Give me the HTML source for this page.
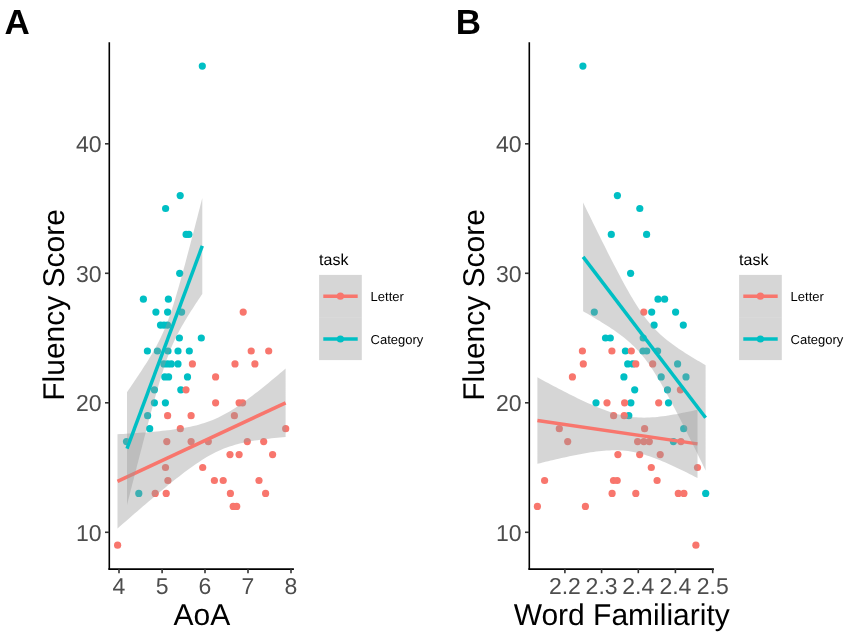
<!DOCTYPE html>
<html><head><meta charset="utf-8"><style>
html,body{margin:0;padding:0;background:#fff;width:851px;height:639px;overflow:hidden}
svg{display:block;filter:blur(0.4px)}
text{font-family:"Liberation Sans",sans-serif;text-rendering:geometricPrecision}
.tick{font-size:23px;fill:#4D4D4D}
.title{font-size:30px;fill:#000}
.lab{font-size:35px;font-weight:bold;fill:#000}
.legt{font-size:16px;fill:#000}
.legl{font-size:13px;fill:#000}
</style></head><body>
<svg width="851" height="639" viewBox="0 0 851 639">
<rect width="851" height="639" fill="#fff"/>
<text x="4.4" y="33.8" class="lab">A</text>
<text x="455.8" y="33.8" class="lab">B</text>
<circle cx="202.3" cy="66.1" r="3.6" fill="#00BFC4"/>
<circle cx="180.2" cy="195.6" r="3.6" fill="#00BFC4"/>
<circle cx="165.6" cy="208.5" r="3.6" fill="#00BFC4"/>
<circle cx="186.1" cy="234.4" r="3.6" fill="#00BFC4"/>
<circle cx="188.9" cy="234.4" r="3.6" fill="#00BFC4"/>
<circle cx="179.7" cy="273.3" r="3.6" fill="#00BFC4"/>
<circle cx="143.4" cy="299.2" r="3.6" fill="#00BFC4"/>
<circle cx="168.4" cy="299.2" r="3.6" fill="#00BFC4"/>
<circle cx="155.9" cy="312.1" r="3.6" fill="#00BFC4"/>
<circle cx="167.6" cy="312.1" r="3.6" fill="#00BFC4"/>
<circle cx="181.6" cy="312.1" r="3.6" fill="#00BFC4"/>
<circle cx="160.5" cy="325.1" r="3.6" fill="#00BFC4"/>
<circle cx="164.0" cy="325.1" r="3.6" fill="#00BFC4"/>
<circle cx="167.5" cy="325.1" r="3.6" fill="#00BFC4"/>
<circle cx="179.4" cy="338.0" r="3.6" fill="#00BFC4"/>
<circle cx="201.3" cy="338.0" r="3.6" fill="#00BFC4"/>
<circle cx="147.4" cy="351.0" r="3.6" fill="#00BFC4"/>
<circle cx="157.4" cy="351.0" r="3.6" fill="#00BFC4"/>
<circle cx="168.0" cy="351.0" r="3.6" fill="#00BFC4"/>
<circle cx="178.0" cy="351.0" r="3.6" fill="#00BFC4"/>
<circle cx="189.3" cy="351.0" r="3.6" fill="#00BFC4"/>
<circle cx="163.9" cy="363.9" r="3.6" fill="#00BFC4"/>
<circle cx="167.7" cy="363.9" r="3.6" fill="#00BFC4"/>
<circle cx="171.3" cy="363.9" r="3.6" fill="#00BFC4"/>
<circle cx="178.0" cy="363.9" r="3.6" fill="#00BFC4"/>
<circle cx="164.8" cy="376.9" r="3.6" fill="#00BFC4"/>
<circle cx="168.6" cy="376.9" r="3.6" fill="#00BFC4"/>
<circle cx="187.5" cy="376.9" r="3.6" fill="#00BFC4"/>
<circle cx="154.4" cy="389.8" r="3.6" fill="#00BFC4"/>
<circle cx="180.8" cy="389.8" r="3.6" fill="#00BFC4"/>
<circle cx="154.4" cy="402.8" r="3.6" fill="#00BFC4"/>
<circle cx="165.4" cy="402.8" r="3.6" fill="#00BFC4"/>
<circle cx="147.6" cy="415.7" r="3.6" fill="#00BFC4"/>
<circle cx="149.7" cy="428.7" r="3.6" fill="#00BFC4"/>
<circle cx="126.5" cy="441.6" r="3.6" fill="#00BFC4"/>
<circle cx="138.8" cy="493.4" r="3.6" fill="#00BFC4"/>
<circle cx="243.2" cy="312.1" r="3.6" fill="#F8766D"/>
<circle cx="251.2" cy="351.0" r="3.6" fill="#F8766D"/>
<circle cx="268.7" cy="351.0" r="3.6" fill="#F8766D"/>
<circle cx="192.4" cy="363.9" r="3.6" fill="#F8766D"/>
<circle cx="235.0" cy="363.9" r="3.6" fill="#F8766D"/>
<circle cx="254.9" cy="363.9" r="3.6" fill="#F8766D"/>
<circle cx="215.6" cy="376.9" r="3.6" fill="#F8766D"/>
<circle cx="186.0" cy="389.8" r="3.6" fill="#F8766D"/>
<circle cx="215.6" cy="402.8" r="3.6" fill="#F8766D"/>
<circle cx="239.1" cy="402.8" r="3.6" fill="#F8766D"/>
<circle cx="242.6" cy="402.8" r="3.6" fill="#F8766D"/>
<circle cx="167.6" cy="415.7" r="3.6" fill="#F8766D"/>
<circle cx="191.1" cy="415.7" r="3.6" fill="#F8766D"/>
<circle cx="234.4" cy="415.7" r="3.6" fill="#F8766D"/>
<circle cx="180.3" cy="428.7" r="3.6" fill="#F8766D"/>
<circle cx="285.7" cy="428.7" r="3.6" fill="#F8766D"/>
<circle cx="166.8" cy="441.6" r="3.6" fill="#F8766D"/>
<circle cx="191.1" cy="441.6" r="3.6" fill="#F8766D"/>
<circle cx="208.3" cy="441.6" r="3.6" fill="#F8766D"/>
<circle cx="247.3" cy="441.6" r="3.6" fill="#F8766D"/>
<circle cx="263.7" cy="441.6" r="3.6" fill="#F8766D"/>
<circle cx="230.0" cy="454.6" r="3.6" fill="#F8766D"/>
<circle cx="239.1" cy="454.6" r="3.6" fill="#F8766D"/>
<circle cx="272.6" cy="454.6" r="3.6" fill="#F8766D"/>
<circle cx="165.5" cy="467.5" r="3.6" fill="#F8766D"/>
<circle cx="202.7" cy="467.5" r="3.6" fill="#F8766D"/>
<circle cx="167.9" cy="480.5" r="3.6" fill="#F8766D"/>
<circle cx="214.4" cy="480.5" r="3.6" fill="#F8766D"/>
<circle cx="223.2" cy="480.5" r="3.6" fill="#F8766D"/>
<circle cx="259.0" cy="480.5" r="3.6" fill="#F8766D"/>
<circle cx="155.2" cy="493.4" r="3.6" fill="#F8766D"/>
<circle cx="166.2" cy="493.4" r="3.6" fill="#F8766D"/>
<circle cx="230.4" cy="493.4" r="3.6" fill="#F8766D"/>
<circle cx="265.6" cy="493.4" r="3.6" fill="#F8766D"/>
<circle cx="233.2" cy="506.4" r="3.6" fill="#F8766D"/>
<circle cx="236.7" cy="506.4" r="3.6" fill="#F8766D"/>
<circle cx="117.6" cy="545.2" r="3.6" fill="#F8766D"/>
<path d="M117.50,434.24 L120.30,434.08 L123.10,433.91 L125.91,433.74 L128.71,433.57 L131.51,433.39 L134.31,433.20 L137.11,433.01 L139.91,432.80 L142.72,432.60 L145.52,432.38 L148.32,432.15 L151.12,431.92 L153.92,431.67 L156.72,431.41 L159.53,431.14 L162.33,430.85 L165.13,430.55 L167.93,430.22 L170.73,429.88 L173.53,429.51 L176.34,429.12 L179.14,428.70 L181.94,428.25 L184.74,427.77 L187.54,427.24 L190.34,426.67 L193.15,426.06 L195.95,425.38 L198.75,424.65 L201.55,423.86 L204.35,422.99 L207.15,422.05 L209.96,421.03 L212.76,419.92 L215.56,418.73 L218.36,417.45 L221.16,416.07 L223.96,414.61 L226.77,413.06 L229.57,411.42 L232.37,409.71 L235.17,407.93 L237.97,406.07 L240.77,404.16 L243.58,402.18 L246.38,400.16 L249.18,398.09 L251.98,395.98 L254.78,393.83 L257.58,391.65 L260.38,389.43 L263.19,387.19 L265.99,384.93 L268.79,382.65 L271.59,380.34 L274.39,378.02 L277.20,375.68 L280.00,373.33 L282.80,370.97 L285.60,368.59 L285.60,437.01 L282.80,437.26 L280.00,437.51 L277.20,437.78 L274.39,438.06 L271.59,438.36 L268.79,438.67 L265.99,439.00 L263.19,439.36 L260.38,439.74 L257.58,440.14 L254.78,440.58 L251.98,441.05 L249.18,441.56 L246.38,442.11 L243.58,442.70 L240.77,443.35 L237.97,444.05 L235.17,444.82 L232.37,445.65 L229.57,446.55 L226.77,447.54 L223.96,448.61 L221.16,449.76 L218.36,451.01 L215.56,452.34 L212.76,453.77 L209.96,455.28 L207.15,456.87 L204.35,458.55 L201.55,460.31 L198.75,462.13 L195.95,464.02 L193.15,465.97 L190.34,467.97 L187.54,470.02 L184.74,472.11 L181.94,474.24 L179.14,476.41 L176.34,478.61 L173.53,480.84 L170.73,483.09 L167.93,485.37 L165.13,487.66 L162.33,489.98 L159.53,492.31 L156.72,494.65 L153.92,497.01 L151.12,499.39 L148.32,501.77 L145.52,504.16 L142.72,506.56 L139.91,508.97 L137.11,511.39 L134.31,513.82 L131.51,516.25 L128.71,518.69 L125.91,521.13 L123.10,523.58 L120.30,526.03 L117.50,528.49Z" fill="#999999" fill-opacity="0.4"/>
<line x1="117.5" y1="481.36" x2="285.6" y2="402.80" stroke="#F8766D" stroke-width="3.5" stroke-linecap="butt"/>
<path d="M127.00,392.17 L128.25,390.34 L129.51,388.51 L130.76,386.67 L132.02,384.83 L133.28,382.97 L134.53,381.12 L135.78,379.25 L137.04,377.37 L138.29,375.49 L139.55,373.59 L140.81,371.68 L142.06,369.76 L143.31,367.82 L144.57,365.87 L145.82,363.90 L147.08,361.90 L148.34,359.88 L149.59,357.84 L150.84,355.76 L152.10,353.65 L153.36,351.49 L154.61,349.29 L155.87,347.03 L157.12,344.71 L158.38,342.32 L159.63,339.85 L160.88,337.29 L162.14,334.62 L163.40,331.83 L164.65,328.92 L165.91,325.88 L167.16,322.68 L168.42,319.34 L169.67,315.85 L170.93,312.21 L172.18,308.43 L173.44,304.52 L174.69,300.48 L175.94,296.34 L177.20,292.10 L178.46,287.77 L179.71,283.37 L180.97,278.90 L182.22,274.37 L183.48,269.79 L184.73,265.17 L185.99,260.51 L187.24,255.81 L188.50,251.09 L189.75,246.34 L191.00,241.56 L192.26,236.77 L193.52,231.96 L194.77,227.13 L196.03,222.29 L197.28,217.44 L198.54,212.57 L199.79,207.70 L201.05,202.81 L202.30,197.92 L202.30,293.94 L201.05,295.80 L199.79,297.67 L198.54,299.55 L197.28,301.44 L196.03,303.34 L194.77,305.26 L193.52,307.19 L192.26,309.13 L191.00,311.10 L189.75,313.08 L188.50,315.08 L187.24,317.12 L185.99,319.18 L184.73,321.27 L183.48,323.40 L182.22,325.58 L180.97,327.81 L179.71,330.09 L178.46,332.45 L177.20,334.87 L175.94,337.39 L174.69,340.00 L173.44,342.72 L172.18,345.57 L170.93,348.54 L169.67,351.66 L168.42,354.92 L167.16,358.34 L165.91,361.90 L164.65,365.61 L163.40,369.45 L162.14,373.43 L160.88,377.51 L159.63,381.71 L158.38,385.99 L157.12,390.36 L155.87,394.79 L154.61,399.29 L153.36,403.85 L152.10,408.45 L150.84,413.09 L149.59,417.77 L148.34,422.48 L147.08,427.21 L145.82,431.97 L144.57,436.76 L143.31,441.56 L142.06,446.38 L140.81,451.21 L139.55,456.06 L138.29,460.92 L137.04,465.79 L135.78,470.67 L134.53,475.56 L133.28,480.46 L132.02,485.36 L130.76,490.27 L129.51,495.19 L128.25,500.11 L127.00,505.04Z" fill="#999999" fill-opacity="0.4"/>
<line x1="127.0" y1="448.61" x2="202.3" y2="245.93" stroke="#00BFC4" stroke-width="3.5" stroke-linecap="butt"/>
<line x1="109.3" y1="42.2" x2="109.3" y2="569.6" stroke="#000" stroke-width="1.6"/>
<line x1="108.4" y1="569.1" x2="293.9" y2="569.1" stroke="#000" stroke-width="1.6"/>
<line x1="105.0" y1="532.3" x2="109.3" y2="532.3" stroke="#333" stroke-width="1.6"/>
<text x="101.6" y="540.6" class="tick" text-anchor="end">10</text>
<line x1="105.0" y1="402.8" x2="109.3" y2="402.8" stroke="#333" stroke-width="1.6"/>
<text x="101.6" y="411.1" class="tick" text-anchor="end">20</text>
<line x1="105.0" y1="273.3" x2="109.3" y2="273.3" stroke="#333" stroke-width="1.6"/>
<text x="101.6" y="281.6" class="tick" text-anchor="end">30</text>
<line x1="105.0" y1="143.8" x2="109.3" y2="143.8" stroke="#333" stroke-width="1.6"/>
<text x="101.6" y="152.1" class="tick" text-anchor="end">40</text>
<line x1="119.0" y1="569.1" x2="119.0" y2="573.2" stroke="#333" stroke-width="1.6"/>
<text x="119.0" y="593.7" class="tick" text-anchor="middle">4</text>
<line x1="162.1" y1="569.1" x2="162.1" y2="573.2" stroke="#333" stroke-width="1.6"/>
<text x="162.1" y="593.7" class="tick" text-anchor="middle">5</text>
<line x1="205.0" y1="569.1" x2="205.0" y2="573.2" stroke="#333" stroke-width="1.6"/>
<text x="205.0" y="593.7" class="tick" text-anchor="middle">6</text>
<line x1="248.0" y1="569.1" x2="248.0" y2="573.2" stroke="#333" stroke-width="1.6"/>
<text x="248.0" y="593.7" class="tick" text-anchor="middle">7</text>
<line x1="291.0" y1="569.1" x2="291.0" y2="573.2" stroke="#333" stroke-width="1.6"/>
<text x="291.0" y="593.7" class="tick" text-anchor="middle">8</text>
<text x="201.8" y="624.6" class="title" text-anchor="middle">AoA</text>
<text transform="translate(64.0,304.9) rotate(-90)" class="title" text-anchor="middle">Fluency Score</text>
<text x="319.1" y="264.7" class="legt">task</text>
<rect x="319.1" y="274.9" width="42.7" height="42.6" fill="#999999" fill-opacity="0.4"/>
<rect x="319.1" y="317.5" width="42.7" height="42.6" fill="#999999" fill-opacity="0.4"/>
<line x1="323.3" y1="296.2" x2="357.7" y2="296.2" stroke="#F8766D" stroke-width="3.5"/>
<circle cx="340.4" cy="296.2" r="3.6" fill="#F8766D"/>
<text x="370.6" y="300.8" class="legl">Letter</text>
<line x1="323.3" y1="339.0" x2="357.7" y2="339.0" stroke="#00BFC4" stroke-width="3.5"/>
<circle cx="340.4" cy="339.0" r="3.6" fill="#00BFC4"/>
<text x="370.6" y="343.9" class="legl">Category</text>
<circle cx="582.9" cy="66.1" r="3.6" fill="#00BFC4"/>
<circle cx="617.4" cy="195.6" r="3.6" fill="#00BFC4"/>
<circle cx="639.8" cy="208.5" r="3.6" fill="#00BFC4"/>
<circle cx="611.3" cy="234.4" r="3.6" fill="#00BFC4"/>
<circle cx="646.6" cy="234.4" r="3.6" fill="#00BFC4"/>
<circle cx="630.6" cy="273.3" r="3.6" fill="#00BFC4"/>
<circle cx="658.0" cy="299.2" r="3.6" fill="#00BFC4"/>
<circle cx="664.6" cy="299.2" r="3.6" fill="#00BFC4"/>
<circle cx="594.3" cy="312.1" r="3.6" fill="#00BFC4"/>
<circle cx="651.7" cy="312.1" r="3.6" fill="#00BFC4"/>
<circle cx="675.6" cy="312.1" r="3.6" fill="#00BFC4"/>
<circle cx="654.1" cy="325.1" r="3.6" fill="#00BFC4"/>
<circle cx="683.3" cy="325.1" r="3.6" fill="#00BFC4"/>
<circle cx="605.5" cy="338.0" r="3.6" fill="#00BFC4"/>
<circle cx="610.3" cy="338.0" r="3.6" fill="#00BFC4"/>
<circle cx="643.2" cy="338.0" r="3.6" fill="#00BFC4"/>
<circle cx="625.4" cy="351.0" r="3.6" fill="#00BFC4"/>
<circle cx="643.0" cy="351.0" r="3.6" fill="#00BFC4"/>
<circle cx="646.7" cy="351.0" r="3.6" fill="#00BFC4"/>
<circle cx="657.6" cy="351.0" r="3.6" fill="#00BFC4"/>
<circle cx="627.7" cy="363.9" r="3.6" fill="#00BFC4"/>
<circle cx="632.7" cy="363.9" r="3.6" fill="#00BFC4"/>
<circle cx="677.6" cy="363.9" r="3.6" fill="#00BFC4"/>
<circle cx="623.9" cy="376.9" r="3.6" fill="#00BFC4"/>
<circle cx="661.2" cy="376.9" r="3.6" fill="#00BFC4"/>
<circle cx="686.0" cy="376.9" r="3.6" fill="#00BFC4"/>
<circle cx="634.7" cy="389.8" r="3.6" fill="#00BFC4"/>
<circle cx="667.5" cy="389.8" r="3.6" fill="#00BFC4"/>
<circle cx="596.0" cy="402.8" r="3.6" fill="#00BFC4"/>
<circle cx="630.9" cy="402.8" r="3.6" fill="#00BFC4"/>
<circle cx="668.5" cy="402.8" r="3.6" fill="#00BFC4"/>
<circle cx="628.8" cy="415.7" r="3.6" fill="#00BFC4"/>
<circle cx="683.7" cy="428.7" r="3.6" fill="#00BFC4"/>
<circle cx="673.4" cy="441.6" r="3.6" fill="#00BFC4"/>
<circle cx="705.7" cy="493.4" r="3.6" fill="#00BFC4"/>
<circle cx="643.8" cy="312.1" r="3.6" fill="#F8766D"/>
<circle cx="582.4" cy="351.0" r="3.6" fill="#F8766D"/>
<circle cx="611.9" cy="351.0" r="3.6" fill="#F8766D"/>
<circle cx="631.3" cy="351.0" r="3.6" fill="#F8766D"/>
<circle cx="583.3" cy="363.9" r="3.6" fill="#F8766D"/>
<circle cx="635.8" cy="363.9" r="3.6" fill="#F8766D"/>
<circle cx="652.7" cy="363.9" r="3.6" fill="#F8766D"/>
<circle cx="572.4" cy="376.9" r="3.6" fill="#F8766D"/>
<circle cx="680.4" cy="389.8" r="3.6" fill="#F8766D"/>
<circle cx="607.0" cy="402.8" r="3.6" fill="#F8766D"/>
<circle cx="624.6" cy="402.8" r="3.6" fill="#F8766D"/>
<circle cx="658.7" cy="402.8" r="3.6" fill="#F8766D"/>
<circle cx="613.6" cy="415.7" r="3.6" fill="#F8766D"/>
<circle cx="624.2" cy="415.7" r="3.6" fill="#F8766D"/>
<circle cx="559.3" cy="428.7" r="3.6" fill="#F8766D"/>
<circle cx="644.6" cy="428.7" r="3.6" fill="#F8766D"/>
<circle cx="567.7" cy="441.6" r="3.6" fill="#F8766D"/>
<circle cx="637.6" cy="441.6" r="3.6" fill="#F8766D"/>
<circle cx="643.8" cy="441.6" r="3.6" fill="#F8766D"/>
<circle cx="649.3" cy="441.6" r="3.6" fill="#F8766D"/>
<circle cx="680.9" cy="441.6" r="3.6" fill="#F8766D"/>
<circle cx="617.9" cy="454.6" r="3.6" fill="#F8766D"/>
<circle cx="639.7" cy="454.6" r="3.6" fill="#F8766D"/>
<circle cx="660.2" cy="454.6" r="3.6" fill="#F8766D"/>
<circle cx="651.3" cy="467.5" r="3.6" fill="#F8766D"/>
<circle cx="697.5" cy="467.5" r="3.6" fill="#F8766D"/>
<circle cx="544.6" cy="480.5" r="3.6" fill="#F8766D"/>
<circle cx="613.5" cy="480.5" r="3.6" fill="#F8766D"/>
<circle cx="617.2" cy="480.5" r="3.6" fill="#F8766D"/>
<circle cx="657.1" cy="480.5" r="3.6" fill="#F8766D"/>
<circle cx="612.1" cy="493.4" r="3.6" fill="#F8766D"/>
<circle cx="635.8" cy="493.4" r="3.6" fill="#F8766D"/>
<circle cx="678.3" cy="493.4" r="3.6" fill="#F8766D"/>
<circle cx="683.9" cy="493.4" r="3.6" fill="#F8766D"/>
<circle cx="537.4" cy="506.4" r="3.6" fill="#F8766D"/>
<circle cx="585.4" cy="506.4" r="3.6" fill="#F8766D"/>
<circle cx="695.9" cy="545.2" r="3.6" fill="#F8766D"/>
<path d="M537.40,377.37 L540.07,378.81 L542.74,380.24 L545.40,381.67 L548.07,383.09 L550.74,384.51 L553.41,385.92 L556.08,387.32 L558.75,388.71 L561.41,390.09 L564.08,391.46 L566.75,392.82 L569.42,394.17 L572.09,395.51 L574.76,396.83 L577.42,398.14 L580.09,399.42 L582.76,400.69 L585.43,401.94 L588.10,403.16 L590.77,404.36 L593.43,405.53 L596.10,406.67 L598.77,407.77 L601.44,408.83 L604.11,409.85 L606.78,410.83 L609.44,411.75 L612.11,412.62 L614.78,413.43 L617.45,414.17 L620.12,414.85 L622.79,415.46 L625.46,415.99 L628.12,416.45 L630.79,416.83 L633.46,417.14 L636.13,417.37 L638.80,417.53 L641.47,417.61 L644.13,417.63 L646.80,417.59 L649.47,417.49 L652.14,417.33 L654.81,417.13 L657.48,416.88 L660.14,416.58 L662.81,416.25 L665.48,415.88 L668.15,415.49 L670.82,415.06 L673.49,414.61 L676.15,414.13 L678.82,413.64 L681.49,413.12 L684.16,412.59 L686.83,412.04 L689.50,411.48 L692.16,410.90 L694.83,410.31 L697.50,409.72 L697.50,478.00 L694.83,476.63 L692.16,475.27 L689.50,473.92 L686.83,472.58 L684.16,471.26 L681.49,469.95 L678.82,468.66 L676.15,467.39 L673.49,466.14 L670.82,464.91 L668.15,463.71 L665.48,462.53 L662.81,461.39 L660.14,460.29 L657.48,459.22 L654.81,458.19 L652.14,457.21 L649.47,456.28 L646.80,455.40 L644.13,454.58 L641.47,453.83 L638.80,453.14 L636.13,452.52 L633.46,451.98 L630.79,451.51 L628.12,451.12 L625.46,450.80 L622.79,450.56 L620.12,450.39 L617.45,450.29 L614.78,450.26 L612.11,450.30 L609.44,450.39 L606.78,450.54 L604.11,450.74 L601.44,450.98 L598.77,451.27 L596.10,451.60 L593.43,451.96 L590.77,452.35 L588.10,452.77 L585.43,453.22 L582.76,453.69 L580.09,454.19 L577.42,454.70 L574.76,455.23 L572.09,455.78 L569.42,456.34 L566.75,456.91 L564.08,457.50 L561.41,458.09 L558.75,458.70 L556.08,459.32 L553.41,459.94 L550.74,460.58 L548.07,461.22 L545.40,461.86 L542.74,462.52 L540.07,463.17 L537.40,463.84Z" fill="#999999" fill-opacity="0.4"/>
<line x1="537.4" y1="420.60" x2="697.5" y2="443.86" stroke="#F8766D" stroke-width="3.5" stroke-linecap="butt"/>
<path d="M583.10,202.49 L585.14,206.69 L587.18,210.88 L589.23,215.06 L591.27,219.23 L593.31,223.40 L595.35,227.55 L597.39,231.69 L599.43,235.81 L601.48,239.92 L603.52,244.01 L605.56,248.09 L607.60,252.14 L609.64,256.17 L611.68,260.18 L613.73,264.16 L615.77,268.10 L617.81,272.01 L619.85,275.87 L621.89,279.69 L623.93,283.46 L625.98,287.17 L628.02,290.81 L630.06,294.38 L632.10,297.87 L634.14,301.26 L636.18,304.56 L638.23,307.75 L640.27,310.82 L642.31,313.77 L644.35,316.59 L646.39,319.28 L648.43,321.85 L650.48,324.28 L652.52,326.59 L654.56,328.79 L656.60,330.87 L658.64,332.86 L660.68,334.75 L662.73,336.55 L664.77,338.29 L666.81,339.95 L668.85,341.56 L670.89,343.11 L672.93,344.62 L674.98,346.08 L677.02,347.51 L679.06,348.90 L681.10,350.26 L683.14,351.60 L685.18,352.91 L687.23,354.21 L689.27,355.48 L691.31,356.74 L693.35,357.98 L695.39,359.21 L697.43,360.42 L699.48,361.62 L701.52,362.82 L703.56,364.00 L705.60,365.18 L705.60,470.45 L703.56,466.26 L701.52,462.08 L699.48,457.91 L697.43,453.75 L695.39,449.60 L693.35,445.46 L691.31,441.34 L689.27,437.23 L687.23,433.14 L685.18,429.07 L683.14,425.02 L681.10,420.99 L679.06,416.99 L677.02,413.02 L674.98,409.08 L672.93,405.18 L670.89,401.32 L668.85,397.51 L666.81,393.75 L664.77,390.05 L662.73,386.42 L660.68,382.87 L658.64,379.39 L656.60,376.01 L654.56,372.73 L652.52,369.56 L650.48,366.51 L648.43,363.58 L646.39,360.78 L644.35,358.11 L642.31,355.57 L640.27,353.15 L638.23,350.86 L636.18,348.68 L634.14,346.62 L632.10,344.65 L630.06,342.77 L628.02,340.97 L625.98,339.25 L623.93,337.60 L621.89,336.00 L619.85,334.46 L617.81,332.96 L615.77,331.50 L613.73,330.08 L611.68,328.69 L609.64,327.33 L607.60,326.00 L605.56,324.69 L603.52,323.40 L601.48,322.13 L599.43,320.87 L597.39,319.64 L595.35,318.41 L593.31,317.20 L591.27,316.00 L589.23,314.80 L587.18,313.62 L585.14,312.45 L583.10,311.28Z" fill="#999999" fill-opacity="0.4"/>
<line x1="583.1" y1="256.89" x2="705.6" y2="417.81" stroke="#00BFC4" stroke-width="3.5" stroke-linecap="butt"/>
<line x1="529.3" y1="42.2" x2="529.3" y2="569.6" stroke="#000" stroke-width="1.6"/>
<line x1="528.4" y1="569.1" x2="713.9" y2="569.1" stroke="#000" stroke-width="1.6"/>
<line x1="525.0" y1="532.3" x2="529.3" y2="532.3" stroke="#333" stroke-width="1.6"/>
<text x="521.6" y="540.6" class="tick" text-anchor="end">10</text>
<line x1="525.0" y1="402.8" x2="529.3" y2="402.8" stroke="#333" stroke-width="1.6"/>
<text x="521.6" y="411.1" class="tick" text-anchor="end">20</text>
<line x1="525.0" y1="273.3" x2="529.3" y2="273.3" stroke="#333" stroke-width="1.6"/>
<text x="521.6" y="281.6" class="tick" text-anchor="end">30</text>
<line x1="525.0" y1="143.8" x2="529.3" y2="143.8" stroke="#333" stroke-width="1.6"/>
<text x="521.6" y="152.1" class="tick" text-anchor="end">40</text>
<line x1="564.9" y1="569.1" x2="564.9" y2="573.2" stroke="#333" stroke-width="1.6"/>
<text x="564.9" y="593.7" class="tick" text-anchor="middle">2.2</text>
<line x1="601.6" y1="569.1" x2="601.6" y2="573.2" stroke="#333" stroke-width="1.6"/>
<text x="601.6" y="593.7" class="tick" text-anchor="middle">2.3</text>
<line x1="638.3" y1="569.1" x2="638.3" y2="573.2" stroke="#333" stroke-width="1.6"/>
<text x="638.3" y="593.7" class="tick" text-anchor="middle">2.4</text>
<line x1="675.4" y1="569.1" x2="675.4" y2="573.2" stroke="#333" stroke-width="1.6"/>
<text x="675.4" y="593.7" class="tick" text-anchor="middle">2.4</text>
<line x1="712.7" y1="569.1" x2="712.7" y2="573.2" stroke="#333" stroke-width="1.6"/>
<text x="712.7" y="593.7" class="tick" text-anchor="middle">2.5</text>
<text x="621.7" y="624.6" class="title" text-anchor="middle">Word Familiarity</text>
<text transform="translate(484.0,304.9) rotate(-90)" class="title" text-anchor="middle">Fluency Score</text>
<text x="739.1" y="264.7" class="legt">task</text>
<rect x="739.1" y="274.9" width="42.7" height="42.6" fill="#999999" fill-opacity="0.4"/>
<rect x="739.1" y="317.5" width="42.7" height="42.6" fill="#999999" fill-opacity="0.4"/>
<line x1="743.3" y1="296.2" x2="777.7" y2="296.2" stroke="#F8766D" stroke-width="3.5"/>
<circle cx="760.4" cy="296.2" r="3.6" fill="#F8766D"/>
<text x="790.6" y="300.8" class="legl">Letter</text>
<line x1="743.3" y1="339.0" x2="777.7" y2="339.0" stroke="#00BFC4" stroke-width="3.5"/>
<circle cx="760.4" cy="339.0" r="3.6" fill="#00BFC4"/>
<text x="790.6" y="343.9" class="legl">Category</text>
</svg>
</body></html>
